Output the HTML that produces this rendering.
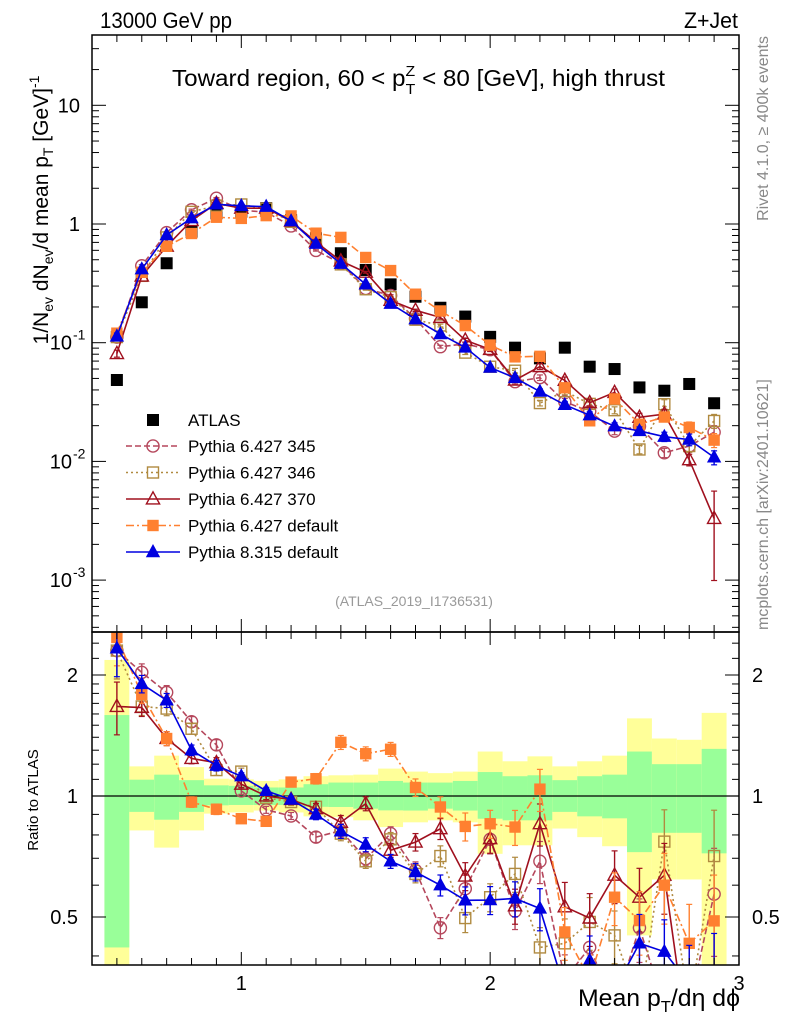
<!DOCTYPE html>
<html><head><meta charset="utf-8">
<style>
html,body{margin:0;padding:0;background:#fff;width:786px;height:1024px;overflow:hidden;}
svg{display:block;font-family:"Liberation Sans",sans-serif;}
</style></head>
<body>
<svg id="chart" width="786" height="1024" viewBox="0 0 786 1024" xmlns="http://www.w3.org/2000/svg">
<g id="bands"></g>
<g id="marks"></g>
<g id="axes"></g>
<text x="100" y="28" font-size="22" textLength="132" lengthAdjust="spacingAndGlyphs">13000 GeV pp</text>
<text x="684" y="28" font-size="22" textLength="54" lengthAdjust="spacingAndGlyphs">Z+Jet</text>
<text x="172" y="86" font-size="23" textLength="493" lengthAdjust="spacingAndGlyphs">Toward region, 60 &lt; p<tspan font-size="15" dy="-10">Z</tspan><tspan font-size="15" dx="-9" dy="18">T</tspan><tspan dy="-8"> &lt; 80 [GeV], high thrust</tspan></text>
<text transform="translate(48,210) rotate(-90)" font-size="21" text-anchor="middle">1/N<tspan font-size="14" dy="5">ev</tspan><tspan dy="-5"> dN</tspan><tspan font-size="14" dy="5">ev</tspan><tspan dy="-5">/d mean p</tspan><tspan font-size="14" dy="5">T</tspan><tspan dy="-5"> [GeV]</tspan><tspan font-size="14" dy="-9">-1</tspan></text>
<text transform="translate(768,36) rotate(-90)" font-size="16" fill="#888" text-anchor="end">Rivet 4.1.0, ≥ 400k events</text>
<text transform="translate(768,630) rotate(-90)" font-size="16" fill="#888">mcplots.cern.ch [arXiv:2401.10621]</text>
<text x="414" y="606" font-size="14" fill="#999" text-anchor="middle">(ATLAS_2019_I1736531)</text>
<text transform="translate(38,800) rotate(-90)" font-size="15" text-anchor="middle">Ratio to ATLAS</text>
<text x="578" y="1006" font-size="24" textLength="162" lengthAdjust="spacingAndGlyphs">Mean p<tspan font-size="16" dy="6">T</tspan><tspan dy="-6">/dη dϕ</tspan></text>
<g id="legend"></g>
</svg>
<script>
const xCenters=[0.5,0.6,0.7,0.8,0.9,1.0,1.1,1.2,1.3,1.4,1.5,1.6,1.7,1.8,1.9,2.0,2.1,2.2,2.3,2.4,2.5,2.6,2.7,2.8,2.9];
const atlasValues=[0.0485,0.219,0.467,0.861,1.23,1.27,1.36,1.08,0.758,0.567,0.41,0.31,0.244,0.197,0.166,0.112,0.0908,0.0738,0.0908,0.0628,0.06,0.042,0.0394,0.0449,0.0309];
const ratioP345=[2.3,2.03,1.81,1.53,1.34,1.03,0.924,0.892,0.79,0.82,0.698,0.806,0.653,0.47,0.588,0.78,0.517,0.688,0.35,0.42,0.3,0.47,0.3,0.3,0.57];
const ratioP346=[2.3,1.67,1.65,1.47,1.16,1.15,0.99,0.966,0.94,0.806,0.688,0.78,0.64,0.709,0.497,0.56,0.64,0.42,0.43,0.486,0.45,0.3,0.77,0.3,0.709];
const ratioP370=[1.67,1.66,1.39,1.24,1.21,1.07,1.0,0.98,0.93,0.86,0.957,0.733,0.768,0.829,0.632,0.783,0.533,0.853,0.53,0.497,0.635,0.56,0.635,0.23,0.107];
const ratioP6def=[2.48,1.79,1.39,0.966,0.927,0.878,0.865,1.083,1.104,1.36,1.274,1.307,1.05,0.939,0.84,0.853,0.837,1.04,0.459,0.35,0.56,0.49,0.60,0.43,0.489];
const ratioP8=[2.33,1.90,1.73,1.30,1.19,1.12,1.03,0.98,0.90,0.817,0.757,0.688,0.647,0.60,0.55,0.551,0.556,0.525,0.33,0.39,0.33,0.43,0.41,0.34,0.35];
const mcRelErr=[0.15,0.05,0.04,0.03,0.03,0.02,0.02,0.02,0.03,0.04,0.04,0.04,0.05,0.06,0.08,0.08,0.1,0.12,0.15,0.15,0.15,0.18,0.2,0.25,0.3];
const bandYellowUp=[2.18,1.185,1.26,1.18,1.104,1.10,1.09,1.10,1.12,1.126,1.13,1.17,1.15,1.14,1.15,1.29,1.22,1.255,1.185,1.22,1.26,1.56,1.39,1.38,1.61];
const bandGreenUp=[1.59,1.098,1.13,1.095,1.063,1.06,1.05,1.05,1.07,1.08,1.08,1.09,1.08,1.08,1.09,1.147,1.12,1.126,1.095,1.12,1.13,1.29,1.2,1.2,1.31];
const bandGreenDn=[0.42,0.913,0.873,0.913,0.948,0.95,0.95,0.95,0.94,0.939,0.93,0.921,0.92,0.93,0.92,0.878,0.87,0.87,0.913,0.89,0.88,0.725,0.81,0.81,0.72];
const bandYellowDn=[0.3,0.821,0.744,0.821,0.904,0.91,0.92,0.91,0.89,0.886,0.87,0.837,0.86,0.87,0.86,0.718,0.754,0.754,0.83,0.79,0.75,0.45,0.62,0.62,0.3];
const xTickLabels=["1","2","3"];
const mainTickLabels=[[1,"10"],[0,"1"],[-1,"10","-1"],[-2,"10","-2"],[-3,"10","-3"]];
const ratioTickLabels=[[2,"2"],[1,"1"],[0.5,"0.5"]];

const NS="http://www.w3.org/2000/svg";
const L=92,R=739,MT=35,MB=632,RT=632,RB=965;
const xs=v=>L+(v-0.4)/2.6*(R-L);
const ys=v=>224-Math.log10(v)*118.7;
const yr=v=>796-Math.log2(v)*121;
function mk(tag,attrs,parent){const e=document.createElementNS(NS,tag);for(const k in attrs)e.setAttribute(k,attrs[k]);parent.appendChild(e);return e;}
const bands=document.getElementById('bands'),marks=document.getElementById('marks'),axes=document.getElementById('axes'),legend=document.getElementById('legend');
const clipM=mk('clipPath',{id:'cm'},document.getElementById('chart'));mk('rect',{x:L,y:MT,width:R-L,height:MB-MT},clipM);
const clipR=mk('clipPath',{id:'cr'},document.getElementById('chart'));mk('rect',{x:L,y:RT,width:R-L,height:RB-RT},clipR);
bands.setAttribute('clip-path','url(#cr)');
xCenters.forEach((x,i)=>{
  const x0=xs(x-0.05),x1=xs(x+0.05);
  let r=mk('rect',{x:x0,y:yr(bandYellowUp[i]),width:x1-x0,height:yr(bandYellowDn[i])-yr(bandYellowUp[i]),fill:'#ffff99'},bands);
  
  
  r=mk('rect',{x:x0,y:yr(bandGreenUp[i]),width:x1-x0,height:yr(bandGreenDn[i])-yr(bandGreenUp[i]),fill:'#99ff99'},bands);
  
  
});
mk('line',{x1:L,x2:R,y1:yr(1),y2:yr(1),stroke:'#000','stroke-width':1.2},bands);

const series=[
 {name:'Pythia 6.427 345',ratio:ratioP345,color:'#b5475c',dash:'6,3',marker:'circle',fill:'none'},
 {name:'Pythia 6.427 346',ratio:ratioP346,color:'#b08a40',dash:'2,3',marker:'square',fill:'none'},
 {name:'Pythia 6.427 370',ratio:ratioP370,color:'#a0101e',dash:'',marker:'tri',fill:'none'},
 {name:'Pythia 6.427 default',ratio:ratioP6def,color:'#ff8030',dash:'8,3,2,3',marker:'square',fill:'#ff8030'},
 {name:'Pythia 8.315 default',ratio:ratioP8,color:'#0000e0',dash:'',marker:'tri',fill:'#0000e0'}];
function marker(g,type,cx,cy,color,fill,sz){
  if(type==='circle')return mk('circle',{cx,cy,r:sz*0.55,fill,stroke:color,'stroke-width':1.4},g);
  if(type==='square')return mk('rect',{x:cx-sz*0.5,y:cy-sz*0.5,width:sz,height:sz,fill,stroke:color,'stroke-width':1.4},g);
  return mk('polygon',{points:`${cx},${cy-sz*0.65} ${cx-sz*0.6},${cy+sz*0.45} ${cx+sz*0.6},${cy+sz*0.45}`,fill,stroke:color,'stroke-width':1.4},g);
}
const gm=mk('g',{'clip-path':'url(#cm)'},marks);
const gr=mk('g',{'clip-path':'url(#cr)'},marks);
xCenters.forEach((x,i)=>{
  const r=mk('rect',{x:xs(x)-6,y:ys(atlasValues[i])-6,width:12,height:12,fill:'#000'},gm);
  
  
});
series.forEach((s,si)=>{
  const vals=s.ratio.map((r,i)=>r*atlasValues[i]);
  const g1=mk('g',{},gm);
  const g2=mk('g',{},gr);
  const pm=xCenters.map((x,i)=>xs(x)+','+ys(vals[i])).join(' ');
  const pr=xCenters.map((x,i)=>xs(x)+','+yr(s.ratio[i])).join(' ');
  mk('polyline',{points:pm,fill:'none',stroke:s.color,'stroke-width':1.6,'stroke-dasharray':s.dash},g1);
  mk('polyline',{points:pr,fill:'none',stroke:s.color,'stroke-width':1.6,'stroke-dasharray':s.dash},g2);
  xCenters.forEach((x,i)=>{
    [[g1,ys,vals[i],0.45],[g2,yr,s.ratio[i],1]].forEach(([g,f,v,k])=>{
      let e=mcRelErr[i]*k;
      if(s.marker==='tri'&&s.fill==='none'&&i===24)e=0.7;
      const y0=f(v*(1+e)),y1=f(Math.max(v*(1-e),1e-4));
      mk('line',{x1:xs(x),x2:xs(x),y1:y0,y2:y1,stroke:s.color,'stroke-width':1.4},g);
      mk('line',{x1:xs(x)-3,x2:xs(x)+3,y1:y0,y2:y0,stroke:s.color,'stroke-width':1.2},g);
      mk('line',{x1:xs(x)-3,x2:xs(x)+3,y1:y1,y2:y1,stroke:s.color,'stroke-width':1.2},g);
      const m=marker(g,s.marker,xs(x),f(v),s.color,s.fill,s.fill==='none'?11:10);
      
      
    });
  });
  const ly=446+si*26.5;
  const le=mk('g',{},legend);
  
  
  mk('line',{x1:126,x2:180,y1:ly,y2:ly,stroke:s.color,'stroke-width':1.6,'stroke-dasharray':s.dash},le);
  marker(le,s.marker,153,ly,s.color,s.fill,s.fill==='none'?11:10);
  const t=mk('text',{x:188,y:ly+6,'font-size':17},le);t.textContent=s.name;
});
{const le=mk('g',{},legend);


mk('rect',{x:147,y:414,width:12,height:12,fill:'#000'},le);
const t=mk('text',{x:188,y:426,'font-size':17},le);t.textContent='ATLAS';}

mk('rect',{x:L,y:MT,width:R-L,height:MB-MT,fill:'none',stroke:'#000','stroke-width':1.5},axes);
mk('rect',{x:L,y:RT,width:R-L,height:RB-RT,fill:'none',stroke:'#000','stroke-width':1.5},axes);
for(let k=5;k<=29;k++){
  const v=k/10,x=xs(v),maj=(k%10===0);const len=maj?13:7;
  [[MT,1],[MB,-1],[RT,1],[RB,-1]].forEach(([y,d])=>mk('line',{x1:x,x2:x,y1:y,y2:y+d*len,stroke:'#000','stroke-width':1},axes));
}
xTickLabels.forEach(lbl=>{const t=mk('text',{x:xs(+lbl),y:990,'font-size':20,'text-anchor':'middle'},axes);t.textContent=lbl;

});
for(let d=-4;d<=1;d++){for(let m=1;m<=9;m++){const v=m*Math.pow(10,d),y=ys(v);if(y<MT||y>MB)continue;const len=m===1?14:7;
  mk('line',{x1:L,x2:L+len,y1:y,y2:y,stroke:'#000'},axes);mk('line',{x1:R,x2:R-len,y1:y,y2:y,stroke:'#000'},axes);}}
mainTickLabels.forEach(([e,b,s])=>{const y=ys(Math.pow(10,e))+7;
  const t=mk('text',{x:s?72:80,y,'font-size':20,'text-anchor':'end'},axes);t.textContent=b;
  
  
  if(s){const u=mk('text',{x:73,y:y-10,'font-size':14},axes);u.textContent=s;}});
[0.4,0.5,0.6,0.7,0.8,0.9,1,1.1,1.2,1.3,1.4,1.5,1.6,1.7,1.8,1.9,2,2.2,2.4].forEach(v=>{const y=yr(v);if(y<RT||y>RB)return;const len=(v===0.5||v===1||v===2)?14:7;
  mk('line',{x1:L,x2:L+len,y1:y,y2:y,stroke:'#000'},axes);mk('line',{x1:R,x2:R-len,y1:y,y2:y,stroke:'#000'},axes);});
ratioTickLabels.forEach(([v,l])=>{const y=yr(v)+7;
  let t=mk('text',{x:78,y,'font-size':20,'text-anchor':'end'},axes);t.textContent=l;
  
  
  t=mk('text',{x:752,y,'font-size':20},axes);t.textContent=l;
  
  });
</script>
</body></html>
